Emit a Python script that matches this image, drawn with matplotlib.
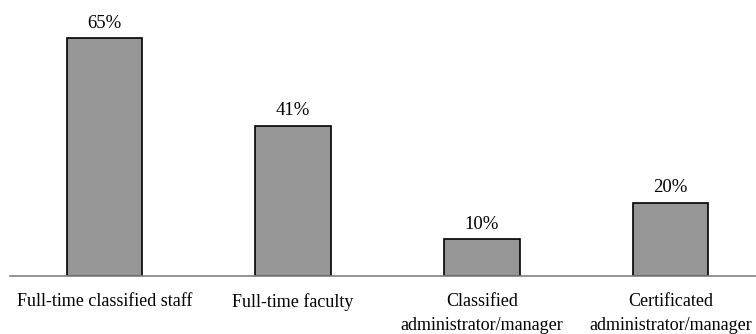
import numpy as np
import matplotlib.pyplot as plt

plt.rcParams['font.family'] = ['Liberation Serif', 'DejaVu Serif']

categories = ["Full-time classified staff", "Full-time faculty",
              "Classified\nadministrator/manager", "Certificated\nadministrator/manager"]
values = [65, 41, 10, 20]

fig = plt.figure(figsize=(7.56, 3.34), dpi=100)
# axes run past the right edge so the last label is clipped
ax = fig.add_axes([10 / 756, 58 / 334, 755 / 756, 256 / 334])

x = np.arange(len(categories))
ax.bar(x, values, width=0.4, color='#969696', edgecolor='black', linewidth=1.2)

for xi, v in zip(x, values):
    ax.text(xi, v + 1.8, f"{v}%", ha='center', va='bottom', fontsize=13.5)

ax.set_xlim(-0.5, len(categories) - 0.5)
ax.set_ylim(0, 70)
ax.set_yticks([])
ax.set_xticks(x)
ax.set_xticklabels(categories, fontsize=13, linespacing=1.6)
ax.tick_params(axis='x', length=0, pad=12)
for side in ['top', 'right', 'left']:
    ax.spines[side].set_visible(False)
ax.spines['bottom'].set_color('#808080')
ax.spines['bottom'].set_linewidth(1.2)

fig.savefig('out.png', dpi=100)
